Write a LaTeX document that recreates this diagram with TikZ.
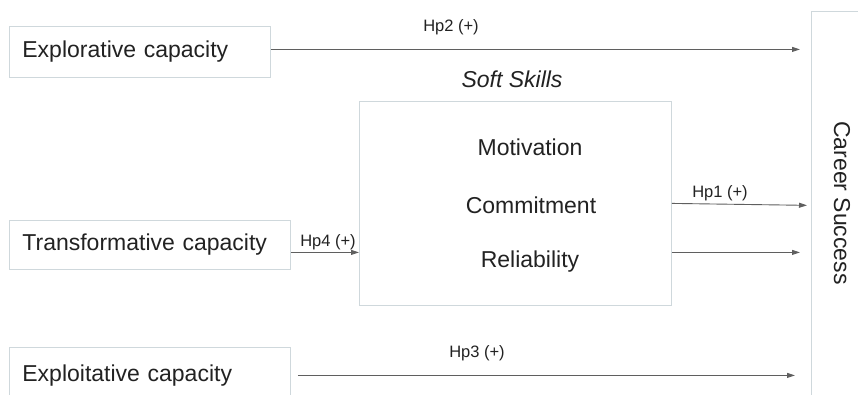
\documentclass[tikz,border=0pt]{standalone}
\usepackage{fontspec}
\setmainfont{Liberation Sans}
\usetikzlibrary{arrows.meta}
\definecolor{boxline}{HTML}{CFD8DC}
\definecolor{ink}{HTML}{222222}
\definecolor{arrowgray}{HTML}{5F5F5F}
\tikzset{
  x=1pt, y=-1pt,
  varbox/.style={draw=boxline, line width=0.8pt, fill=white, anchor=north west,
    inner xsep=13pt, align=left, text=ink,
    font=\fontsize{23}{26}\selectfont},
  bigtxt/.style={text=ink, inner sep=0pt, font=\fontsize{23}{26}\selectfont},
  hplabel/.style={text=ink, inner sep=0pt, font=\fontsize{16.5}{19}\selectfont},
  arr/.style={draw=arrowgray, line width=0.9pt,
    -{Triangle[length=8pt,width=5pt]}}
}
\begin{document}
\begin{tikzpicture}
\useasboundingbox (0,0) rectangle (858,394);
\clip (0,0) rectangle (858,394);
\fill[white] (0,0) rectangle (858,394);

% independent variables
\node[varbox, minimum width=261pt, minimum height=51pt, text width=235pt]
  (explore) at (9,26) {Explorative capacity};
\node[varbox, minimum width=281pt, minimum height=49pt, text width=255pt]
  (trans) at (9,220) {Transformative capacity};
\node[varbox, minimum width=281pt, minimum height=56pt, text width=255pt]
  (exploit) at (9,347) {Exploitative capacity};

% mediator: soft skills
\node[draw=boxline, line width=0.8pt, anchor=north west,
  minimum width=312pt, minimum height=204pt, inner sep=0pt] (soft) at (359,101) {};
\node[bigtxt, font=\fontsize{23}{26}\selectfont\itshape] (softlbl) at (512,79) {Soft Skills};
\node[bigtxt] (motiv) at (530,147) {Motivation};
\node[bigtxt] (commit) at (531,205) {Commitment};
\node[bigtxt] (reliab) at (530,262) {Reliability};

% dependent variable
\node[draw=boxline, line width=0.8pt, anchor=north west,
  minimum width=70pt, minimum height=400pt, inner sep=0pt] (career) at (811,11) {};
\node[bigtxt, rotate=-90] (careerlbl) at (842,203) {Career Success};

% hypotheses
\draw[arr, shorten >=11pt] ([yshift=2.5pt]explore.east) -- ([yshift=2.5pt]explore.east -| career.west);
\node[hplabel] (hp2) at (451,27) {Hp2 (+)};

\draw[arr, shorten >=4pt] (soft.east) -- ([yshift=-2pt]soft.east -| career.west);
\node[hplabel] (hp1) at (720,193) {Hp1 (+)};

\draw[arr, shorten >=11pt] ([yshift=-49pt]soft.east) -- ([yshift=-49pt]soft.east -| career.west);

\draw[arr] ([yshift=-7.5pt]trans.east) -- ([yshift=-7.5pt]trans.east -| soft.west);
\node[hplabel] (hp4) at (328,242) {Hp4 (+)};

\draw[arr, shorten <=7pt, shorten >=16pt] (exploit.east) -- (exploit.east -| career.west);
\node[hplabel] (hp3) at (477,353) {Hp3 (+)};
\end{tikzpicture}
\end{document}
